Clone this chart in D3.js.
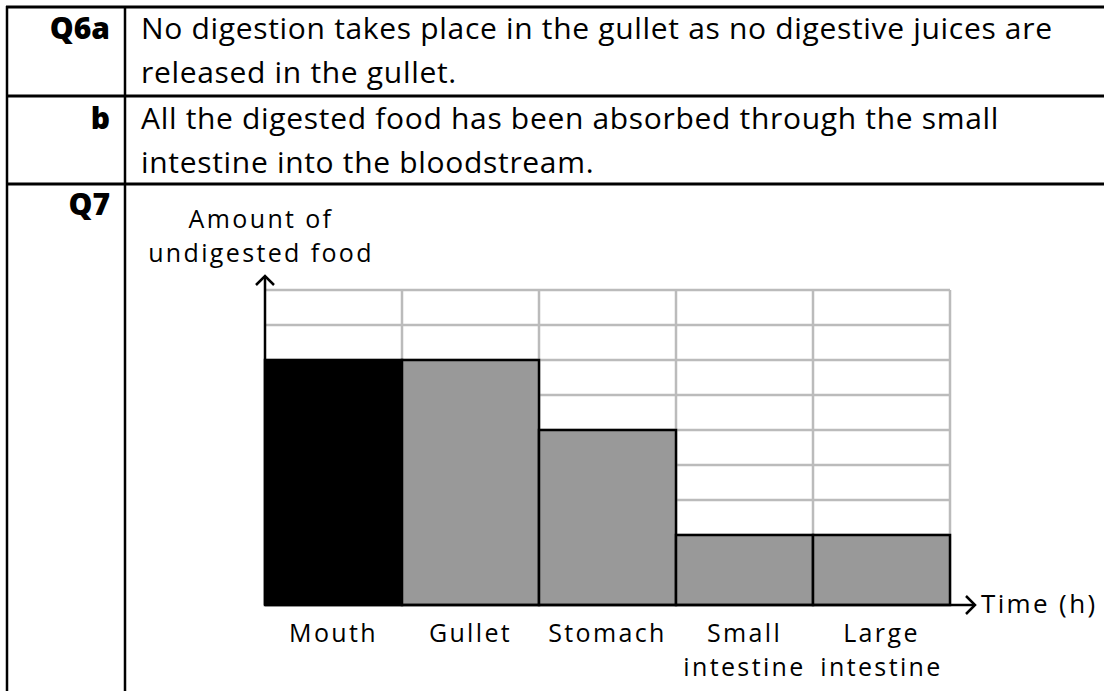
<!DOCTYPE html>
<html>
<head>
<meta charset="utf-8">
<script src="https://cdn.jsdelivr.net/npm/d3@7"></script>
<style>
  body { margin: 0; background: #fff; }
  svg { display: block; font-family: "Open Sans", "Noto Sans", sans-serif; font-variant-ligatures: none; }
</style>
</head>
<body>
<script>
var qLabels = ["Q6a", "b", "Q7"];
var answerLines = [
  ["No digestion takes place in the gullet as no digestive juices are", "released in the gullet."],
  ["All the digested food has been absorbed through the small", "intestine into the bloodstream."]
];
var categories = ["Mouth", "Gullet", "Stomach", "Small intestine", "Large intestine"];
var values = [7, 7, 5, 2, 2];
var yMax = 9;
var yLabel = ["Amount of", "undigested food"];
var xLabel = "Time (h)";

var width = 1104, height = 691;
var svg = d3.select("body").append("svg")
  .attr("width", width)
  .attr("height", height);

// table lines
var rowLines = [7, 96, 184];
svg.selectAll(".rowline").data(rowLines).enter().append("line")
  .attr("x1", 6).attr("x2", width)
  .attr("y1", function(d){ return d; }).attr("y2", function(d){ return d; })
  .attr("stroke", "#000").attr("stroke-width", 3);
[7, 125].forEach(function(x){
  svg.append("line").attr("x1", x).attr("x2", x).attr("y1", 6).attr("y2", height)
    .attr("stroke", "#000").attr("stroke-width", 2.5);
});

var fs = 30;
var qBase = [39, 129, 215];
svg.selectAll(".q").data(qLabels).enter().append("text")
  .attr("x", 110).attr("y", function(d, i){ return qBase[i]; })
  .attr("text-anchor", "end")
  .attr("font-weight", "800")
  .attr("font-size", fs)
  .text(function(d){ return d; });

// each answer is one text with a tspan per line
var answerText = [];
answerLines.forEach(function(lines, i){
  var t = svg.append("text").attr("font-size", fs);
  lines.forEach(function(s, j){
    t.append("tspan").attr("x", 141).attr("y", qBase[i] + j * 44).text(s);
  });
  answerText.push(t);
});
// widen the spacing slightly so the first line ends where it does in the reference
var w0 = answerText[0].select("tspan").node().getComputedTextLength();
var ls = Math.max(0, (911 - w0) / (answerLines[0][0].length - 1));
answerText.forEach(function(el){ el.attr("letter-spacing", ls); });

// chart
var x = d3.scaleBand().domain(categories).range([265, 950]);
var y = d3.scaleLinear().domain([0, yMax]).range([605, 290]);

var g = svg.append("g");
g.selectAll(".hgrid").data(d3.range(1, yMax + 1)).enter().append("line")
  .attr("x1", x.range()[0]).attr("x2", x.range()[1])
  .attr("y1", function(d){ return y(d); }).attr("y2", function(d){ return y(d); })
  .attr("stroke", "#bbb").attr("stroke-width", 2.5);
g.selectAll(".vgrid").data(categories).enter().append("line")
  .attr("x1", function(d){ return x(d) + x.bandwidth(); })
  .attr("x2", function(d){ return x(d) + x.bandwidth(); })
  .attr("y1", y(yMax)).attr("y2", y(0))
  .attr("stroke", "#bbb").attr("stroke-width", 2.5);

g.selectAll(".bar").data(categories).enter().append("rect")
  .attr("x", function(d){ return x(d); })
  .attr("y", function(d, i){ return y(values[i]); })
  .attr("width", x.bandwidth())
  .attr("height", function(d, i){ return y(0) - y(values[i]); })
  .attr("fill", function(d, i){ return i === 0 ? "#000" : "#999"; })
  .attr("stroke", "#000").attr("stroke-width", 2.5);

// axes with arrows
var x0 = x.range()[0], y0 = y(0);
g.append("line").attr("x1", x0).attr("x2", x0).attr("y1", y0).attr("y2", 276)
  .attr("stroke", "#000").attr("stroke-width", 2.5);
g.append("path").attr("d", "M" + (x0 - 9) + "," + 285 + "L" + x0 + "," + 276 + "L" + (x0 + 9) + "," + 285)
  .attr("fill", "none").attr("stroke", "#000").attr("stroke-width", 2.5);
g.append("line").attr("x1", x0).attr("x2", 975).attr("y1", y0).attr("y2", y0)
  .attr("stroke", "#000").attr("stroke-width", 2.5);
g.append("path").attr("d", "M966," + (y0 - 9) + "L975," + y0 + "L966," + (y0 + 9))
  .attr("fill", "none").attr("stroke", "#000").attr("stroke-width", 2.5);

// labels
var lfs = 25;
var labels = [];
categories.forEach(function(c){
  var t = g.append("text").attr("text-anchor", "middle").attr("font-size", lfs);
  c.split(" ").forEach(function(p, j){
    t.append("tspan")
      .attr("x", x(c) + x.bandwidth() / 2)
      .attr("y", 642 + j * 34)
      .text(p);
  });
  labels.push(t);
});
labels.push(g.append("text").attr("x", 981).attr("y", 613).attr("font-size", lfs + 1).text(xLabel));
var yl = g.append("text").attr("text-anchor", "middle").attr("font-size", lfs);
yLabel.forEach(function(s, j){
  yl.append("tspan").attr("x", 261).attr("y", 228 + j * 34).text(s);
});
labels.push(yl);
// "intestine" is about 120px wide in the reference
var wi = labels[3].selectAll("tspan").nodes()[1].getComputedTextLength();
var lls = Math.max(0, (120 - wi) / 8);
labels.forEach(function(el){ el.attr("letter-spacing", lls); });
</script>
</body>
</html>
